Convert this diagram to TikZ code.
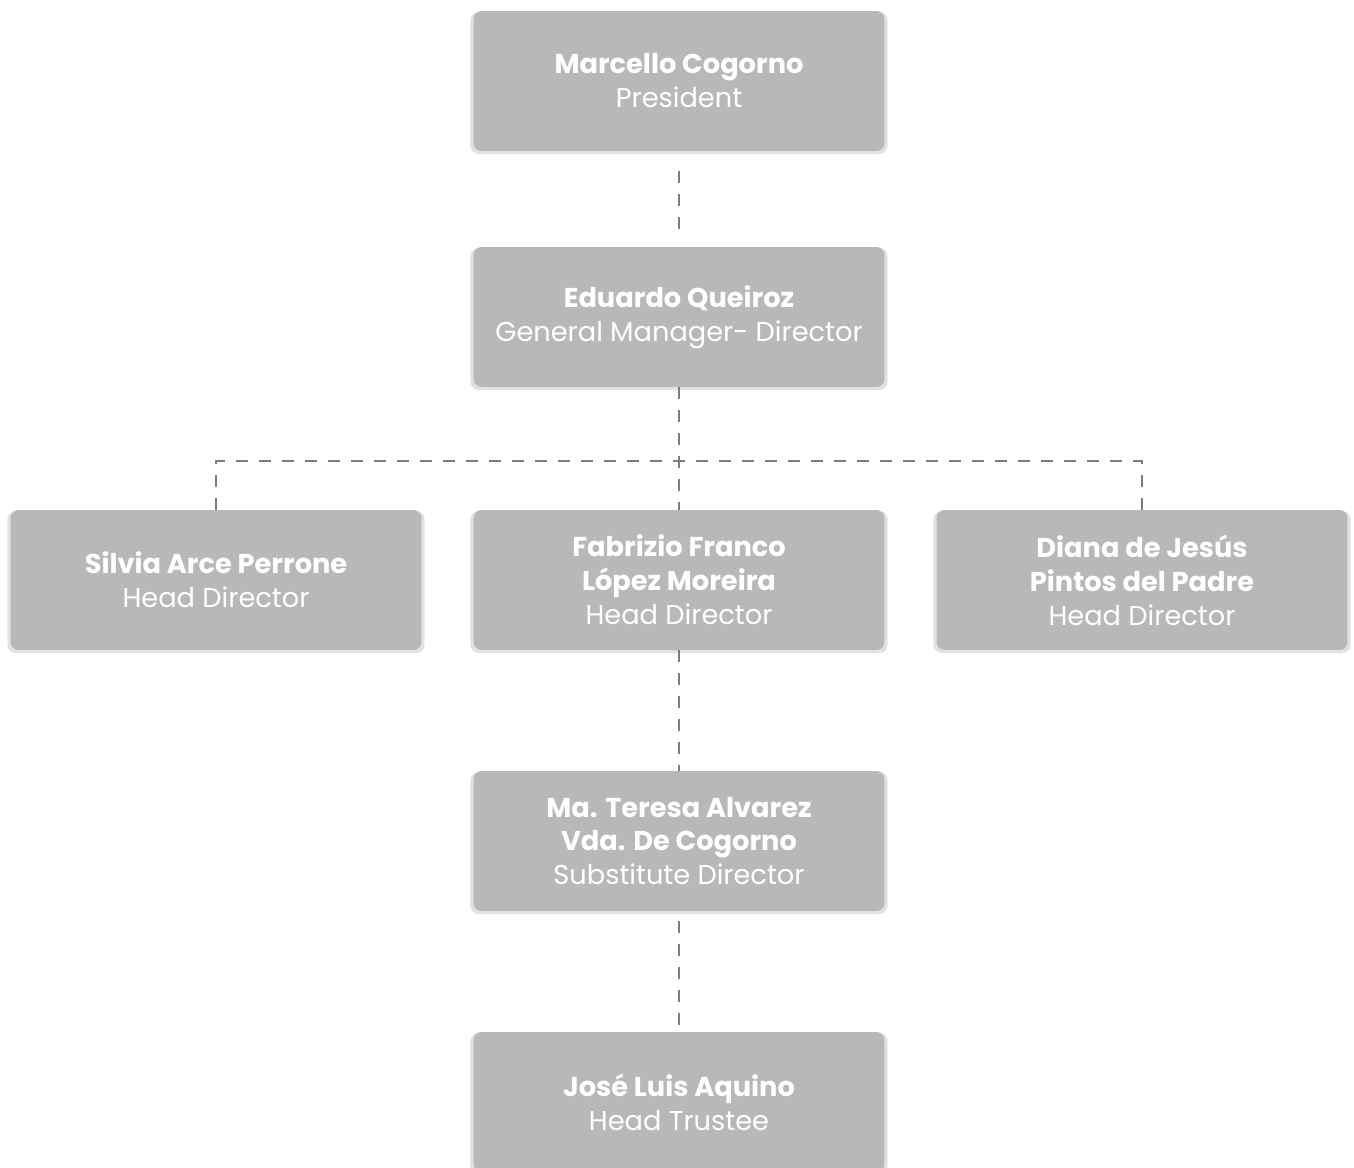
\documentclass[tikz,border=0pt]{standalone}
\usepackage{fontspec}
\setmainfont{Poppins}
\usepackage{tikz}
\usetikzlibrary{shapes,shadows}
\definecolor{boxfill}{HTML}{B8B8B8}
\definecolor{boxedge}{HTML}{DDE3E4}
\definecolor{linkgray}{HTML}{7D7D7D}

\begin{document}
\begin{tikzpicture}
[x=0.02cm, y=-0.02cm,
 round/.style={rounded corners=1.6mm, fill=boxfill, text=white, align=center,
   minimum width=8.22cm, minimum height=2.8cm, inner sep=0pt,
   font=\fontsize{15.5}{19.3}\selectfont,
   drop shadow={shadow xshift=0pt, shadow yshift=-0.04cm, shadow scale=1.015, fill=boxedge, opacity=1}},
 link/.style={color=linkgray, line width=0.04cm, dash pattern=on 0.24cm off 0.22cm}]
    \useasboundingbox (0,0) rectangle (1354,1168);
    \node[round] (P) at (679,81) {\textbf{Marcello Cogorno}\\President};
    \node[round] (G) at (679,317) {\textbf{Eduardo Queiroz}\\General Manager- Director};
    \node[round] (S) at (216,580) {\textbf{Silvia Arce Perrone}\\Head Director};
    \node[round] (F) at (679,580) {\textbf{Fabrizio Franco}\\\textbf{López Moreira}\\Head Director};
    \node[round] (D) at (1142,580) {\textbf{Diana de Jesús}\\\textbf{Pintos del Padre}\\Head Director};
    \node[round] (T) at (679,841) {\textbf{Ma. Teresa Alvarez}\\\textbf{Vda. De Cogorno}\\Substitute Director};
    \node[round] (J) at (679,1102) {\textbf{José Luis Aquino}\\Head Trustee};
    \coordinate (B) at (679,461);
    \path[draw, link, shorten <=0.4cm, shorten >=0.26cm] (P) edge (G);
    \path[draw, link] (G) edge (F);
    \path[draw, link] (S.north) |- (B) -| (D.north);
    \path[draw, link] (F) edge (T);
    \path[draw, link, shorten <=0.2cm] (T) edge (J);
\end{tikzpicture}
\end{document}
